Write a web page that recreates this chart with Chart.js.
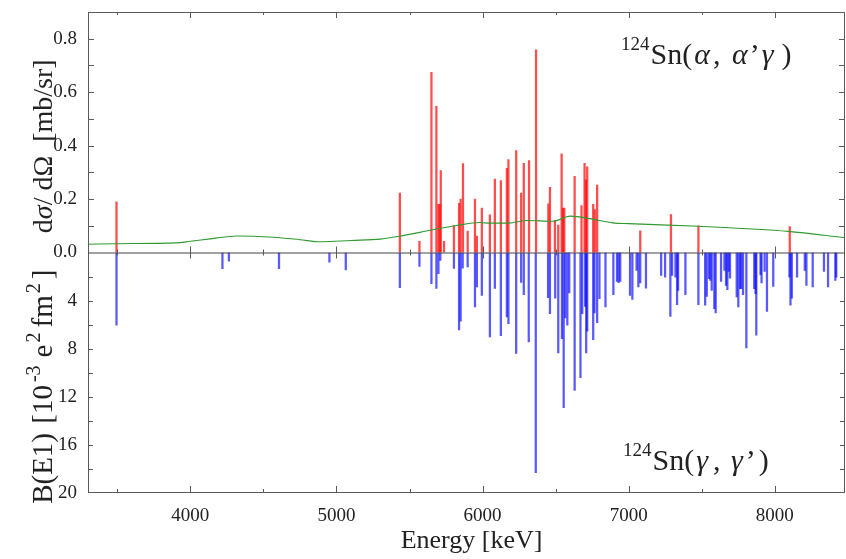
<!DOCTYPE html>
<html>
<head>
<meta charset="utf-8">
<script src="https://cdn.jsdelivr.net/npm/chart.js@4.4.0/dist/chart.umd.min.js"></script>
<style>
  html, body { margin: 0; padding: 0; background: #fff; }
  #wrap { width: 846px; height: 559px; }
</style>
</head>
<body>
<div id="wrap"><canvas id="chart" width="846" height="559"></canvas></div>
<script>
// (alpha, alpha' gamma) cross sections, mb/sr
const redEnergy = [3495, 5434, 5568, 5650, 5684, 5698, 5707, 5714, 5736, 5804, 5839, 5850, 5866, 5898, 5948, 5961,
  5995, 6050, 6084, 6125, 6166, 6177, 6230, 6264, 6282, 6318, 6366, 6450, 6461, 6495, 6518, 6541, 6550, 6559,
  6630, 6677, 6698, 6707, 6716, 6757, 6768, 6784, 7079, 7289, 7477, 8102];
const redValue = [0.19, 0.222, 0.042, 0.674, 0.547, 0.18, 0.18, 0.307, 0.042, 0.101, 0.184, 0.2, 0.333, 0.08, 0.2, 0.061,
  0.166, 0.141, 0.275, 0.269, 0.315, 0.348, 0.381, 0.222, 0.334, 0.344, 0.758, 0.182, 0.244, 0.12, 0.103, 0.369, 0.166, 0.166,
  0.285, 0.176, 0.334, 0.272, 0.321, 0.18, 0.161, 0.252, 0.081, 0.142, 0.1, 0.097];

// (gamma, gamma') B(E1) strengths, 10^-3 e^2 fm^2
const blueEnergy = [3495, 4220, 4264, 4607, 4952, 5064, 5434, 5568, 5650, 5684, 5698, 5711, 5804, 5839, 5850, 5864,
  5898, 5948, 5961, 5995, 6050, 6084, 6125, 6166, 6177, 6230, 6264, 6282, 6316, 6364, 6448, 6461, 6497, 6518,
  6543, 6555, 6566, 6580, 6593, 6630, 6670, 6682, 6702, 6709, 6716, 6757, 6766, 6784, 6800, 6841, 6895, 6920,
  6931, 6942, 7009, 7025, 7054, 7066, 7079, 7118, 7222, 7249, 7285, 7297, 7320, 7331, 7338, 7388, 7477, 7523,
  7534, 7550, 7559, 7568, 7586, 7595, 7632, 7655, 7666, 7675, 7684, 7693, 7739, 7750, 7762, 7770, 7782, 7805,
  7859, 7868, 7873, 7902, 7909, 7930, 7946, 7989, 8100, 8107, 8116, 8152, 8205, 8216, 8259, 8336, 8364, 8414, 8420];
const blueValue = [6.05, 1.35, 0.72, 1.35, 0.8, 1.44, 2.93, 1.16, 2.6, 2.98, 1.77, 0.66, 1.33, 6.44, 5.72, 1.3,
  1.19, 4.53, 2.87, 3.57, 7.02, 2.98, 6.91, 5.36, 5.91, 8.4, 2.49, 3.51, 7.44, 18.3, 3.76, 5.09, 3.79, 8.35,
  7.16, 12.9, 5.44, 6.05, 3.37, 11.47, 10.4, 5.09, 4.48, 8.35, 6.55, 7.24, 5.03, 5.83, 3.84, 4.53, 3.51, 2.4,
  2.5, 2.4, 3.57, 3.9, 1.49, 2.87, 2.52, 2.96, 1.9, 2.05, 5.31, 1.9, 2.05, 4.34, 3.15, 3.51, 4.34, 4.39,
  3.65, 2.18, 2.32, 3.15, 4.67, 5.03, 2.4, 1.49, 2.74, 3.1, 1.58, 2.13, 3.7, 4.53, 3.0, 3.0, 3.51, 7.93,
  3.01, 3.43, 6.88, 1.85, 2.54, 1.58, 4.9, 2.82, 2.05, 4.39, 3.79, 2.05, 1.49, 2.74, 2.87, 1.58, 2.87, 2.32, 2.05];

// background / sensitivity curve
const greenEnergy = [3300, 3500, 3900, 4000, 4150, 4320, 4570, 4750, 4890, 5100, 5300, 5430, 5660, 5820, 5980,
  6050, 6180, 6300, 6480, 6600, 6750, 6890, 7000, 7480, 8090, 8480];
const greenValue = [0.031, 0.033, 0.036, 0.042, 0.052, 0.062, 0.057, 0.048, 0.040, 0.045, 0.05, 0.061, 0.085, 0.101, 0.112,
  0.110, 0.110, 0.120, 0.117, 0.136, 0.125, 0.111, 0.108, 0.098, 0.079, 0.055];

const xTicks = [4000, 5000, 6000, 7000, 8000];
const xMinorTicks = [3500, 4500, 5500, 6500, 7500];
const topTicks = [0, 0.2, 0.4, 0.6, 0.8];
const bottomTicks = [4, 8, 12, 16, 20];

const SERIF = '"Liberation Serif", "DejaVu Serif", serif';
const FRAME = '#5a5a5a';

function pairs(xs, ys) {
  return xs.map((x, i) => ({ x: x, y: ys[i] }));
}

// draw a run of text pieces (for superscripts / italics), gap = extra space after a piece
function drawParts(ctx, parts, x, y, align) {
  let total = 0;
  parts.forEach(p => { ctx.font = p.font; total += ctx.measureText(p.t).width + (p.gap || 0); });
  let cx = align === 'center' ? x - total / 2 : x;
  parts.forEach(p => {
    ctx.font = p.font;
    ctx.fillText(p.t, cx, y + (p.dy || 0));
    cx += ctx.measureText(p.t).width + (p.gap || 0);
  });
}

function noPad(s) {
  s.paddingTop = 0; s.paddingBottom = 0; s.paddingLeft = 0; s.paddingRight = 0;
}

const framePlugin = {
  id: 'frame',
  afterDraw(chart) {
    const ctx = chart.ctx;
    const a = chart.chartArea;
    const xs = chart.scales.x, yt = chart.scales.yTop, yb = chart.scales.yBot;
    const mid = yt.getPixelForValue(0);

    ctx.save();
    ctx.strokeStyle = FRAME;
    ctx.lineWidth = 1;
    ctx.strokeRect(a.left + 0.5, a.top + 0.5, a.right - a.left - 1, a.bottom - a.top - 1);
    ctx.beginPath();
    ctx.strokeStyle = '#444';
    ctx.moveTo(a.left, mid + 0.5);
    ctx.lineTo(a.right, mid + 0.5);
    ctx.stroke();

    ctx.beginPath();
    ctx.strokeStyle = FRAME;
    // x ticks: top border, middle line, bottom border
    const xt = (v, len) => {
      const px = Math.round(xs.getPixelForValue(v)) + 0.5;
      ctx.moveTo(px, a.top); ctx.lineTo(px, a.top + len);
      ctx.moveTo(px, mid - len); ctx.lineTo(px, mid + len);
      ctx.moveTo(px, a.bottom); ctx.lineTo(px, a.bottom - len - 1);
    };
    xTicks.forEach(v => xt(v, 6));
    xMinorTicks.forEach(v => xt(v, 3));

    // y ticks on both sides
    const yTick = (py, len) => {
      py = Math.round(py) + 0.5;
      ctx.moveTo(a.left, py); ctx.lineTo(a.left + len, py);
      ctx.moveTo(a.right, py); ctx.lineTo(a.right - len, py);
    };
    for (let v = 0.1; v < 0.85; v += 0.1) yTick(yt.getPixelForValue(v), 6);
    for (let v = 2; v < 20; v += 2) yTick(yb.getPixelForValue(v), 5);
    ctx.stroke();

    ctx.fillStyle = '#222';
    ctx.textBaseline = 'alphabetic';

    // x title
    ctx.font = '26px ' + SERIF;
    ctx.textAlign = 'center';
    ctx.fillText('Energy [keV]', (a.left + a.right) / 2 + 5, 548);
    ctx.textAlign = 'left';

    const big = '28px ' + SERIF, it = 'italic 28px ' + SERIF, sup = '19px ' + SERIF;

    // rotated y titles
    ctx.save();
    ctx.translate(52, (a.top + mid) / 2 + 14);
    ctx.rotate(-Math.PI / 2);
    drawParts(ctx, [
      { t: 'd', font: big }, { t: 'σ', font: it }, { t: '/ d', font: big },
      { t: 'Ω', font: big }, { t: '  [mb/sr]', font: big }
    ], 0, 0, 'center');
    ctx.restore();

    const big2 = '29px ' + SERIF, sup2 = '20px ' + SERIF;
    ctx.save();
    ctx.translate(52, (mid + a.bottom) / 2 + 14);
    ctx.rotate(-Math.PI / 2);
    drawParts(ctx, [
      { t: 'B(E1)', font: big2, gap: 2 }, { t: ' [10', font: big2, gap: 3 }, { t: '-3', font: sup2, dy: -12, gap: 8 },
      { t: 'e', font: big2, gap: 2 }, { t: '2', font: sup2, dy: -12, gap: 5 }, { t: 'fm', font: big2, gap: 2 },
      { t: '2', font: sup2, dy: -12, gap: 4 }, { t: ']', font: big2 }
    ], 0, 0, 'center');
    ctx.restore();

    // reaction labels
    const lab = '30px ' + SERIF, labIt = 'italic 30px ' + SERIF, labSup = '19px ' + SERIF;
    drawParts(ctx, [
      { t: '124', font: labSup, dy: -14, gap: 1 }, { t: 'Sn(', font: lab, gap: 2 }, { t: 'α', font: labIt, gap: 3 },
      { t: ', ', font: lab, gap: 4 }, { t: 'α', font: labIt, gap: 2 }, { t: '’', font: lab, gap: 2 },
      { t: 'γ', font: labIt, gap: 8 }, { t: ')', font: lab }
    ], 621, 64, 'left');
    drawParts(ctx, [
      { t: '124', font: labSup, dy: -14, gap: 1 }, { t: 'Sn(', font: lab, gap: 2 }, { t: 'γ', font: labIt, gap: 5 },
      { t: ', ', font: lab, gap: 3 }, { t: 'γ', font: labIt, gap: 3 }, { t: '’', font: lab, gap: 3 }, { t: ')', font: lab }
    ], 623, 470, 'left');

    ctx.restore();
  }
};

const tickFont = { family: SERIF, size: 19 };

new Chart(document.getElementById('chart'), {
  data: {
    datasets: [
      {
        type: 'line',
        data: pairs(greenEnergy, greenValue),
        yAxisID: 'yTop',
        borderColor: '#2f9a2f',
        borderWidth: 1.1,
        pointRadius: 0,
        cubicInterpolationMode: 'monotone',
        order: 0
      },
      {
        type: 'bar',
        data: pairs(redEnergy, redValue),
        yAxisID: 'yTop',
        backgroundColor: 'rgba(255, 0, 0, 0.7)',
        barThickness: 1.6,
        grouped: false,
        order: 1
      },
      {
        type: 'bar',
        data: pairs(blueEnergy, blueValue),
        yAxisID: 'yBot',
        backgroundColor: 'rgba(0, 0, 255, 0.65)',
        barThickness: 1.6,
        grouped: false,
        order: 1
      }
    ]
  },
  options: {
    responsive: false,
    animation: false,
    devicePixelRatio: 1,
    layout: { padding: { top: 12, right: 1, left: 0, bottom: 0 } },
    plugins: { legend: { display: false }, tooltip: { enabled: false } },
    scales: {
      x: {
        type: 'linear',
        min: 3300,
        max: 8480,
        offset: false,
        grid: { display: false, drawTicks: false },
        border: { display: false },
        afterBuildTicks: s => { s.ticks = xTicks.map(v => ({ value: v })); },
        afterFit: s => { s.height = 66; noPad(s); },
        ticks: { font: tickFont, color: '#222', padding: 12, maxRotation: 0, callback: v => String(v) }
      },
      // the first axis of a stack is placed at the bottom
      yBot: {
        type: 'linear',
        position: 'left',
        stack: 'panels',
        stackWeight: 1,
        reverse: true,
        min: 0,
        max: 20,
        grid: { display: false, drawTicks: false },
        border: { display: false },
        afterBuildTicks: s => { s.ticks = bottomTicks.map(v => ({ value: v })); },
        afterFit: s => { s.width = 88; noPad(s); },
        ticks: { font: tickFont, color: '#222', padding: 11 }
      },
      yTop: {
        type: 'linear',
        position: 'left',
        stack: 'panels',
        stackWeight: 1,
        min: 0,
        max: 0.9,
        grid: { display: false, drawTicks: false },
        border: { display: false },
        afterBuildTicks: s => { s.ticks = topTicks.map(v => ({ value: v })); },
        afterFit: s => { s.width = 88; noPad(s); },
        ticks: { font: tickFont, color: '#222', padding: 11, callback: v => v.toFixed(1) }
      }
    }
  },
  plugins: [framePlugin]
});
</script>
</body>
</html>
